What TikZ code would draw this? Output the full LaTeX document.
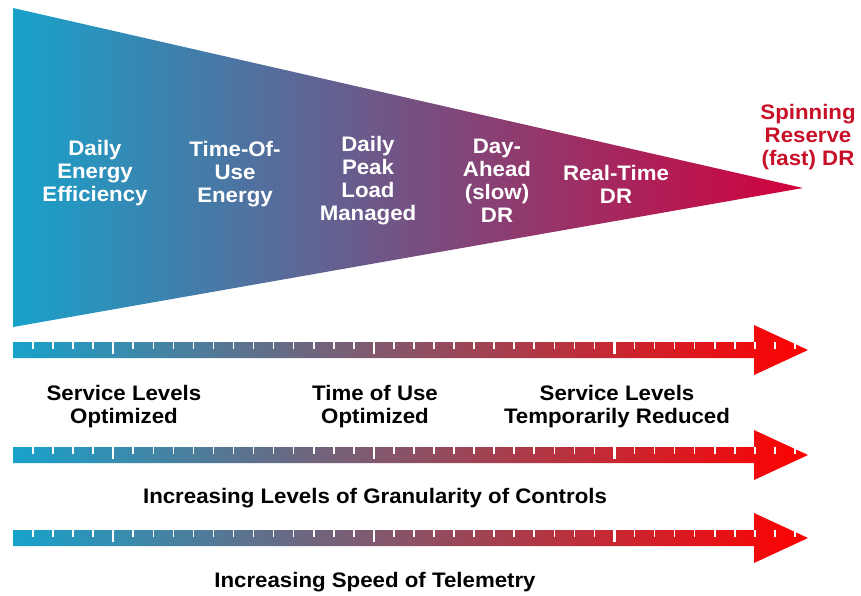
\documentclass[tikz,border=0pt]{standalone}
\usepackage{fontspec}
\setmainfont{Liberation Sans}[FakeStretch=1.06]
\definecolor{cyanL}{RGB}{24,162,202}
\definecolor{triMid}{RGB}{120,58,115}
\definecolor{triR}{RGB}{210,0,60}
\definecolor{arrMid}{RGB}{125,70,108}
\definecolor{arrR}{RGB}{255,0,0}
\definecolor{spinRed}{RGB}{200,16,40}
\begin{document}
\begin{tikzpicture}[x=1pt,y=-1pt,
  lbl/.style={inner sep=0pt,align=center,font=\bfseries\fontsize{21}{23}\selectfont},
  wlbl/.style={lbl,text=white},
  blbl/.style={lbl,text=black},
  tick/.style={white,line width=1.6pt},
  bigtick/.style={white,line width=2.4pt}]
\useasboundingbox[fill=white] (0,0) rectangle (861,595);
% triangle
\shade[left color=cyanL,middle color=triMid,right color=triR]
  (13,8) -- (803,188) -- (13,327) -- cycle;
% arrows
\foreach \c in {350,455,538}{
  \shade[left color=cyanL,middle color=arrMid,right color=arrR]
    (13,\c-8) -- (754,\c-8) -- (754,\c-25) -- (808,\c) -- (754,\c+25)
    -- (754,\c+8) -- (13,\c+8) -- cycle;
  \foreach \k in {0,...,38}{
    \pgfmathsetmacro{\xx}{33+20.05*\k}
    \ifnum\k=4 \draw[bigtick] (\xx,\c-8) -- (\xx,\c+4);
    \else\ifnum\k=17 \draw[bigtick] (\xx,\c-8) -- (\xx,\c+4);
    \else\ifnum\k=29 \draw[bigtick] (\xx,\c-8) -- (\xx,\c+4);
    \else \draw[tick] (\xx,\c-8) -- (\xx,\c-1);
    \fi\fi\fi
  }
}
% triangle labels
\node[wlbl] (dee) at (95,173) {Daily\\Energy\\Efficiency};
\node[wlbl] (tou) at (235,174) {Time-Of-\\Use\\Energy};
\node[wlbl] (dpl) at (368,181) {Daily\\Peak\\Load\\Managed};
\node[wlbl] (dah) at (497,181) {Day-\\Ahead\\(slow)\\DR};
\node[wlbl] (rtd) at (616,184) {Real-Time\\DR};
\node[lbl,text=spinRed] (spin) at (808,137) {Spinning\\Reserve\\(fast) DR};
% bottom labels
\node[blbl] (slo) at (124,407) {Service Levels\\Optimized};
\node[blbl] (tuo) at (375,407) {Time of Use\\Optimized};
\node[blbl] (slr) at (617,407) {Service Levels\\Temporarily Reduced};
\node[blbl] (gran) at (375,498) {Increasing Levels of Granularity of Controls};
\node[blbl] (tele) at (375,582) {Increasing Speed of Telemetry};
\end{tikzpicture}
\end{document}
